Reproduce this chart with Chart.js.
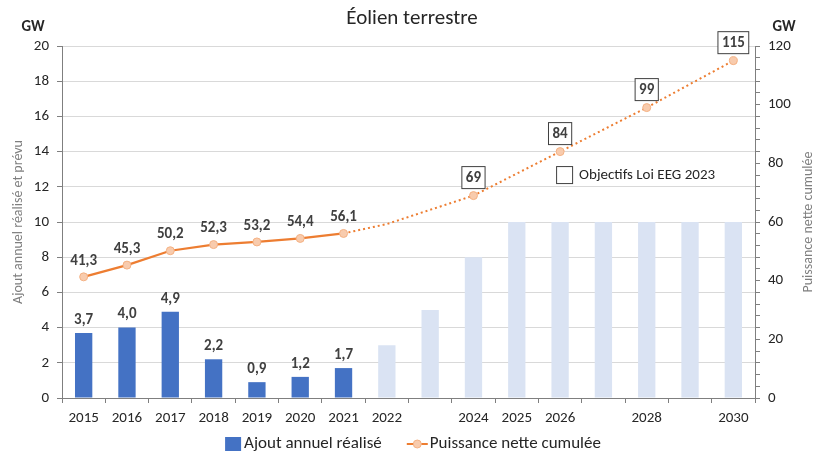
<!DOCTYPE html>
<html>
<head>
<meta charset="utf-8">
<script src="https://cdn.jsdelivr.net/npm/chart.js@4"></script>
<style>
  html, body { margin: 0; padding: 0; background: #fff; }
  #wrap { width: 825px; height: 464px; }
</style>
</head>
<body>
<div id="wrap"><canvas id="chart"></canvas></div>
<script>
const FONT = 'Carlito, Lato, "Open Sans", sans-serif';

// Données
const years = ['2015', '2016', '2017', '2018', '2019', '2020', '2021', '2022',
               '2023', '2024', '2025', '2026', '2027', '2028', '2029', '2030'];
const tickLabels = ['2015', '2016', '2017', '2018', '2019', '2020', '2021', '2022',
                    '', '2024', '2025', '2026', '', '2028', '', '2030'];
const realized = [3.7, 4.0, 4.9, 2.2, 0.9, 1.2, 1.7, null, null, null, null, null, null, null, null, null];
const planned = [null, null, null, null, null, null, null, 3, 5, 8, 10, 10, 10, 10, 10, 10];
const cumulative = [41.3, 45.3, 50.2, 52.3, 53.2, 54.4, 56.1, 59.3, null, 69, null, 84, null, 99, null, 115];
const goalIdx = [9, 11, 13, 15];

const fmt = v => v.toFixed(1).replace('.', ',');

const overlay = {
    id: 'overlay',
    afterDatasetsDraw(chart) {
        const ctx = chart.ctx;
        ctx.save();
        ctx.textAlign = 'center';
        ctx.textBaseline = 'middle';

        // titre + unités
        ctx.fillStyle = '#262626';
        ctx.font = '21px ' + FONT;
        ctx.fillText('Éolien terrestre', 412, 19);
        ctx.font = 'bold 15px ' + FONT;
        ctx.fillText('GW', 33, 27);
        ctx.fillText('GW', 784, 27);

        // titre axe droit (lu de bas en haut)
        ctx.save();
        ctx.translate(808, (chart.chartArea.top + chart.chartArea.bottom) / 2);
        ctx.rotate(-Math.PI / 2);
        ctx.fillStyle = '#7f7f7f';
        ctx.font = '14px ' + FONT;
        ctx.fillText('Puissance nette cumulée', 0, 0);
        ctx.restore();

        ctx.fillStyle = '#404040';
        ctx.font = 'bold 15px ' + FONT;
        const bars = chart.getDatasetMeta(0).data;
        realized.forEach((v, i) => {
            if (v == null) return;
            ctx.fillText(fmt(v), bars[i].x, bars[i].y - 13);
        });

        const pts = chart.getDatasetMeta(2).data;
        cumulative.forEach((v, i) => {
            if (v == null) return;
            const p = pts[i];
            if (i <= 6) {
                ctx.fillText(fmt(v), p.x, p.y - 16);
            } else if (goalIdx.includes(i)) {
                const t = String(v);
                const w = ctx.measureText(t).width + 8;
                const cy = p.y - 18;
                ctx.fillStyle = '#fff';
                ctx.fillRect(p.x - w / 2, cy - 11, w, 22);
                ctx.strokeStyle = '#404040';
                ctx.lineWidth = 1;
                ctx.strokeRect(p.x - w / 2, cy - 11, w, 22);
                ctx.fillStyle = '#404040';
                ctx.fillText(t, p.x, cy + 1);
            }
        });

        // encadré "Objectifs Loi EEG 2023"
        const ax = chart.scales.x.getPixelForValue(11) - 4;
        const ay = chart.scales.y1.getPixelForValue(76);
        ctx.strokeStyle = '#404040';
        ctx.lineWidth = 1;
        ctx.strokeRect(ax + 0.5, ay - 8.5, 16, 17);
        ctx.textAlign = 'left';
        ctx.fillStyle = '#262626';
        ctx.font = '15px ' + FONT;
        ctx.fillText('Objectifs Loi EEG 2023', ax + 23, ay);

        // légende
        ctx.font = '17px ' + FONT;
        const t1 = 'Ajout annuel réalisé', t2 = 'Puissance nette cumulée';
        const w1 = ctx.measureText(t1).width, w2 = ctx.measureText(t2).width;
        const total = 16 + 3 + w1 + 25 + 21 + 2 + w2;
        let lx = 413 - total / 2;
        const ly = 444;
        ctx.fillStyle = '#4472C4';
        ctx.fillRect(lx, ly - 7, 16, 14);
        lx += 19;
        ctx.fillStyle = '#262626';
        ctx.fillText(t1, lx, ly);
        lx += w1 + 25;
        ctx.strokeStyle = '#ED7D31';
        ctx.lineWidth = 2;
        ctx.beginPath(); ctx.moveTo(lx, ly); ctx.lineTo(lx + 21, ly); ctx.stroke();
        ctx.fillStyle = '#F8CBAD';
        ctx.strokeStyle = '#F4B183';
        ctx.lineWidth = 1;
        ctx.beginPath(); ctx.arc(lx + 10.5, ly, 4, 0, Math.PI * 2); ctx.fill(); ctx.stroke();
        lx += 23;
        ctx.fillStyle = '#262626';
        ctx.fillText(t2, lx, ly);
        ctx.restore();
    }
};

new Chart(document.getElementById('chart'), {
    type: 'bar',
    data: {
        labels: years,
        datasets: [
            {
                label: 'Ajout annuel réalisé',
                data: realized,
                backgroundColor: '#4472C4',
                barPercentage: 0.4,
                categoryPercentage: 1,
                grouped: false,
                order: 2
            },
            {
                label: 'Ajout prévu',
                data: planned,
                backgroundColor: '#DAE3F3',
                barPercentage: 0.4,
                categoryPercentage: 1,
                grouped: false,
                order: 3
            },
            {
                type: 'line',
                label: 'Puissance nette cumulée',
                data: cumulative,
                yAxisID: 'y1',
                borderColor: '#ED7D31',
                borderWidth: 2.25,
                spanGaps: true,
                pointRadius: cumulative.map((v, i) => i === 7 ? 0 : 4),
                pointBackgroundColor: '#F8CBAD',
                pointBorderColor: '#F4B183',
                pointBorderWidth: 1,
                segment: {
                    borderDash: c => c.p0DataIndex >= 6 ? [2, 3] : undefined,
                    borderWidth: c => c.p0DataIndex >= 6 ? 2 : 2.25
                },
                order: 1
            }
        ]
    },
    options: {
        responsive: true,
        maintainAspectRatio: false,
        animation: false,
        layout: { padding: { top: 46, left: 0, right: 0, bottom: 36 } },
        scales: {
            x: {
                grid: { display: true, offset: true, drawOnChartArea: false, drawTicks: true, tickLength: 5, color: '#7f7f7f' },
                border: { color: '#7f7f7f' },
                ticks: {
                    autoSkip: false, maxRotation: 0, padding: 6,
                    color: '#262626', font: { family: FONT, size: 15 },
                    callback: (v, i) => tickLabels[i]
                },
                afterFit: s => { s.height = 30; }
            },
            y: {
                min: 0, max: 20,
                ticks: { stepSize: 2, padding: 8, color: '#262626', font: { family: FONT, size: 15 } },
                grid: { color: '#D9D9D9', tickLength: 5, tickColor: '#7f7f7f' },
                border: { color: '#7f7f7f' },
                title: { display: true, text: 'Ajout annuel réalisé et prévu', color: '#7f7f7f', font: { family: FONT, size: 14 }, padding: { top: 10, bottom: 0 } },
                afterFit: s => { s.width = 62; }
            },
            y1: {
                position: 'right',
                min: 0, max: 120,
                ticks: {
                    stepSize: 4, maxTicksLimit: 40, autoSkip: false, padding: 8,
                    color: '#262626', font: { family: FONT, size: 15 },
                    callback: v => v % 20 === 0 ? v : ''
                },
                grid: { drawOnChartArea: false, tickLength: 5, color: '#7f7f7f' },
                border: { color: '#7f7f7f' },
                afterFit: s => { s.width = 70; }
            }
        },
        plugins: {
            tooltip: { enabled: false },
            legend: { display: false }
        }
    },
    plugins: [overlay]
});
</script>
</body>
</html>
